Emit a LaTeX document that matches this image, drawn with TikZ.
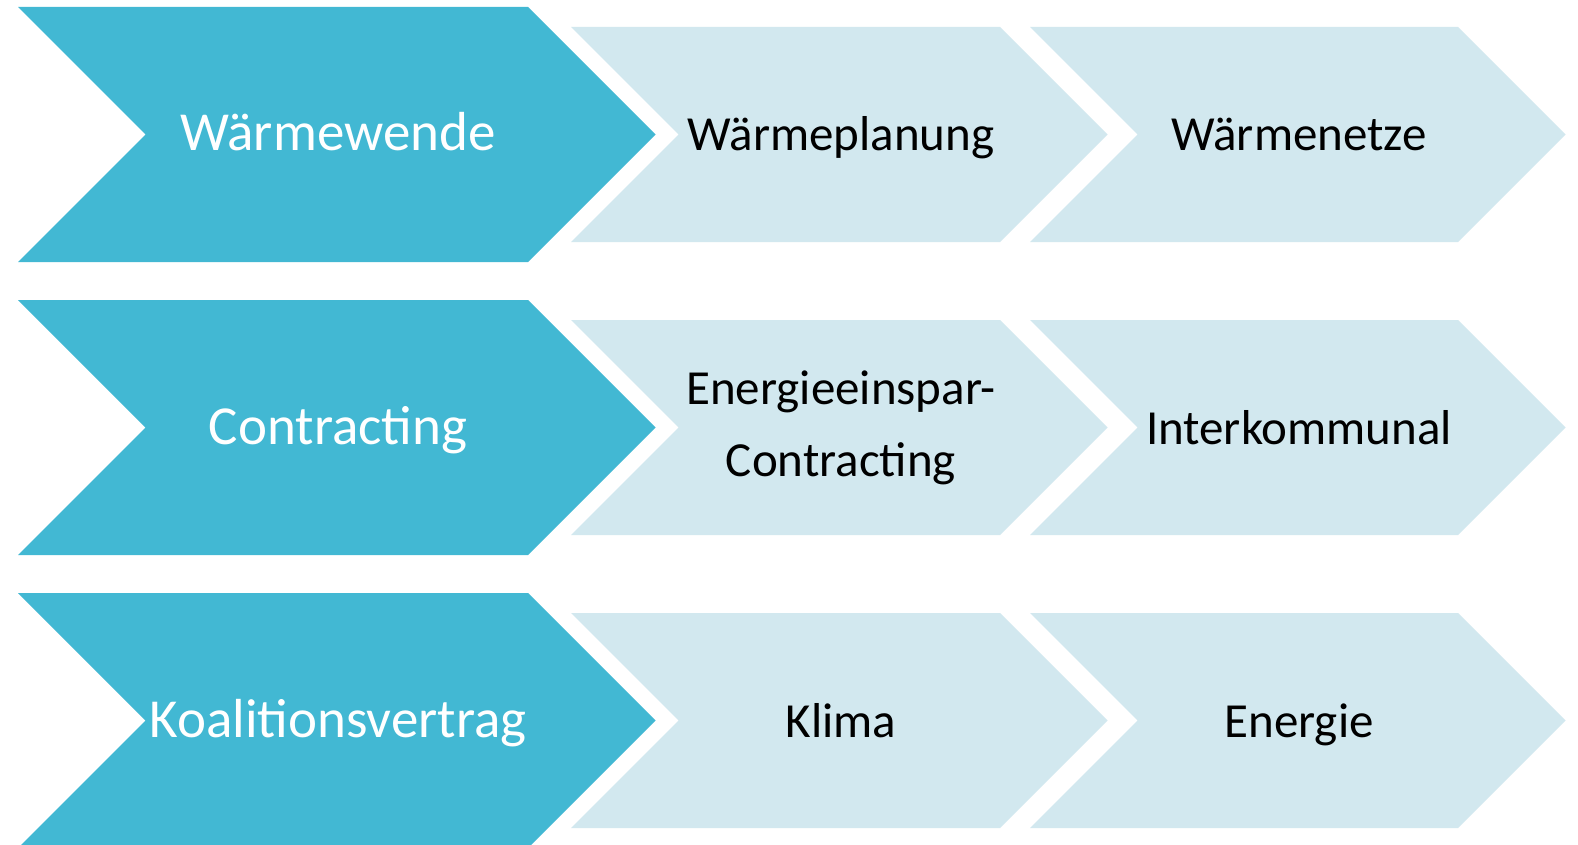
\documentclass[tikz,border=0pt]{standalone}
\usepackage{fontspec}
\setmainfont{Carlito}
\definecolor{chevdark}{RGB}{66,184,211}
\definecolor{chevlight}{RGB}{210,232,239}
% chevron: left x, centre y, top width, half height
\newcommand{\chevshape}[5]{%
  \fill[#5] (#1,#2-#4) -- ++(#3,0) -- ++(#4,#4) -- ++(-#4,#4) -- ++(-#3,0) -- ++(#4,-#4) -- cycle;}
\tikzset{
  darklabel/.style={text=white, font=\fontsize{55}{71.5}\selectfont, align=center, inner sep=0pt, anchor=base},
  lightlabel/.style={text=black, font=\fontsize{49}{71.5}\selectfont, align=center, inner sep=0pt, anchor=base}
}
\begin{document}
\begin{tikzpicture}[x=1pt,y=-1pt]
\useasboundingbox (0,0) rectangle (1578,845);
\fill[white] (0,0) rectangle (1578,845);
% rows
\foreach \yc in {134.5,427.5,720.5}{
  \chevshape{18}{\yc}{510}{127.5}{chevdark}
  \chevshape{571}{\yc}{429}{107.5}{chevlight}
  \chevshape{1030}{\yc}{428}{107.5}{chevlight}
}
% labels, placed by baseline (last line for the two-line label)
\node[darklabel] (w1) at (338,151) {Wärmewende};
\node[lightlabel] (w2) at (841,151) {Wärmeplanung};
\node[lightlabel] (w3) at (1299,151) {Wärmenetze};
\node[darklabel] (c1) at (338,444) {Contracting};
\node[lightlabel] (c2) at (841,476) {Energieeinspar-\\Contracting};
\node[lightlabel] (c3) at (1299,444) {Interkommunal};
\node[darklabel] (k1) at (338,737) {Koalitionsvertrag};
\node[lightlabel] (k2) at (841,737) {Klima};
\node[lightlabel] (k3) at (1299,737) {Energie};
\end{tikzpicture}
\end{document}
